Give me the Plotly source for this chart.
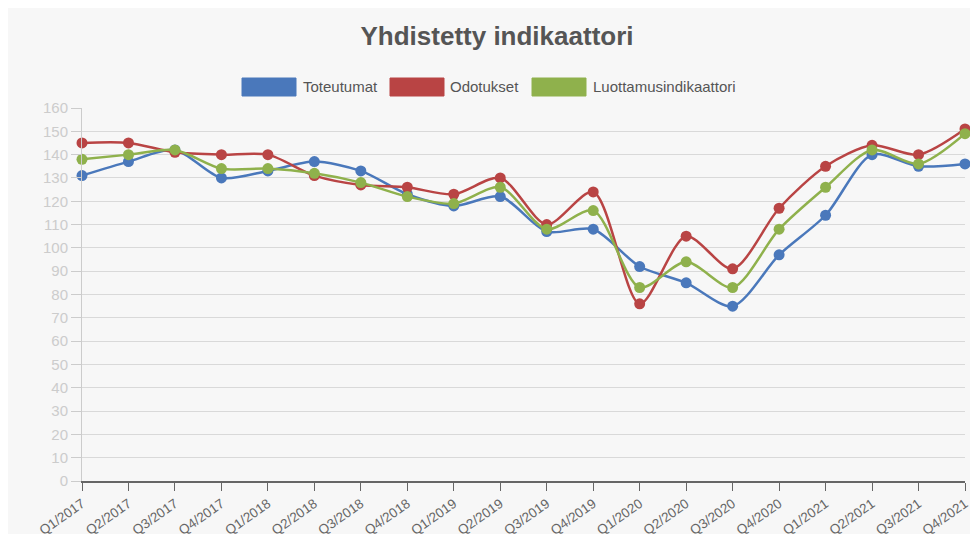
import plotly.graph_objects as go

quarters = ["Q1/2017", "Q2/2017", "Q3/2017", "Q4/2017", "Q1/2018", "Q2/2018", "Q3/2018", "Q4/2018",
            "Q1/2019", "Q2/2019", "Q3/2019", "Q4/2019", "Q1/2020", "Q2/2020", "Q3/2020", "Q4/2020",
            "Q1/2021", "Q2/2021", "Q3/2021", "Q4/2021"]
toteutumat = [131, 137, 142, 130, 133, 137, 133, 123, 118, 122, 107, 108, 92, 85, 75, 97, 114, 140, 135, 136]
odotukset = [145, 145, 141, 140, 140, 131, 127, 126, 123, 130, 110, 124, 76, 105, 91, 117, 135, 144, 140, 151]
luottamus = [138, 140, 142, 134, 134, 132, 128, 122, 119, 126, 108, 116, 83, 94, 83, 108, 126, 142, 136, 149]

series_names = ["Toteutumat", "Odotukset", "Luottamusindikaattori"]
series_values = [toteutumat, odotukset, luottamus]
series_colors = ["#4a78bb", "#b94444", "#8fb14c"]

# page has an 8px body margin; figure coordinates below are relative to the figure div
OFF = 8
L, R, T, B = 74, 21, 100, 61
W, H = 978, 534
pw, ph = W - L - R, H - T - B


def px_x(p):
    return (p - OFF - L) / pw


def px_y(p):
    return (H - B - (p - OFF)) / ph


fig = go.Figure()
for name, vals, col in zip(series_names, series_values, series_colors):
    fig.add_trace(go.Scatter(x=quarters, y=vals, name=name, mode="lines+markers",
                             line=dict(color=col, width=2.5, shape="spline", smoothing=0.8),
                             marker=dict(size=11, color=col), showlegend=False, cliponaxis=False))

shapes = []
annotations = []
legend_boxes = [(242, 303), (390, 450), (532, 593)]
for (bx, tx), name, col in zip(legend_boxes, series_names, series_colors):
    shapes.append(dict(type="rect", xref="paper", yref="paper", layer="above",
                       x0=px_x(bx), x1=px_x(bx + 54), y0=px_y(96), y1=px_y(78),
                       fillcolor=col, line=dict(width=1, color=col)))
    annotations.append(dict(text=name, xref="paper", yref="paper", x=px_x(tx - 2), y=px_y(87),
                            xanchor="left", yanchor="middle", showarrow=False,
                            font=dict(family="Liberation Sans, Arial", size=15, color="#555555")))

fig.update_layout(
    width=W, height=H,
    margin=dict(l=L, r=R, t=T, b=B, autoexpand=False),
    paper_bgcolor="#f7f7f7", plot_bgcolor="#f7f7f7",
    title=dict(text="<b>Yhdistetty indikaattori</b>", x=0.5, xanchor="center",
               y=1 - 28 / H, yanchor="middle",
               font=dict(family="Liberation Sans, Arial", size=26, color="#555555")),
    showlegend=False,
    font=dict(family="Liberation Sans, Arial"),
    shapes=shapes,
    annotations=annotations,
)
fig.update_xaxes(type="category", range=[0, len(quarters) - 1], showgrid=False, automargin=False,
                 showline=True, linecolor="#666666", linewidth=1.5,
                 ticks="outside", ticklen=8, tickcolor="#666666", tickangle=-35,
                 tickfont=dict(size=13.5, color="#666666"), zeroline=False)
fig.update_yaxes(range=[0, 160], dtick=10, showgrid=True, gridcolor="#d9d9d9", gridwidth=1, automargin=False,
                 showline=True, linecolor="#cccccc", ticks="outside", ticklen=10, tickcolor="#cccccc",
                 tickfont=dict(size=15, color="#cccccc"), zeroline=False)

fig.write_html("out.html")
